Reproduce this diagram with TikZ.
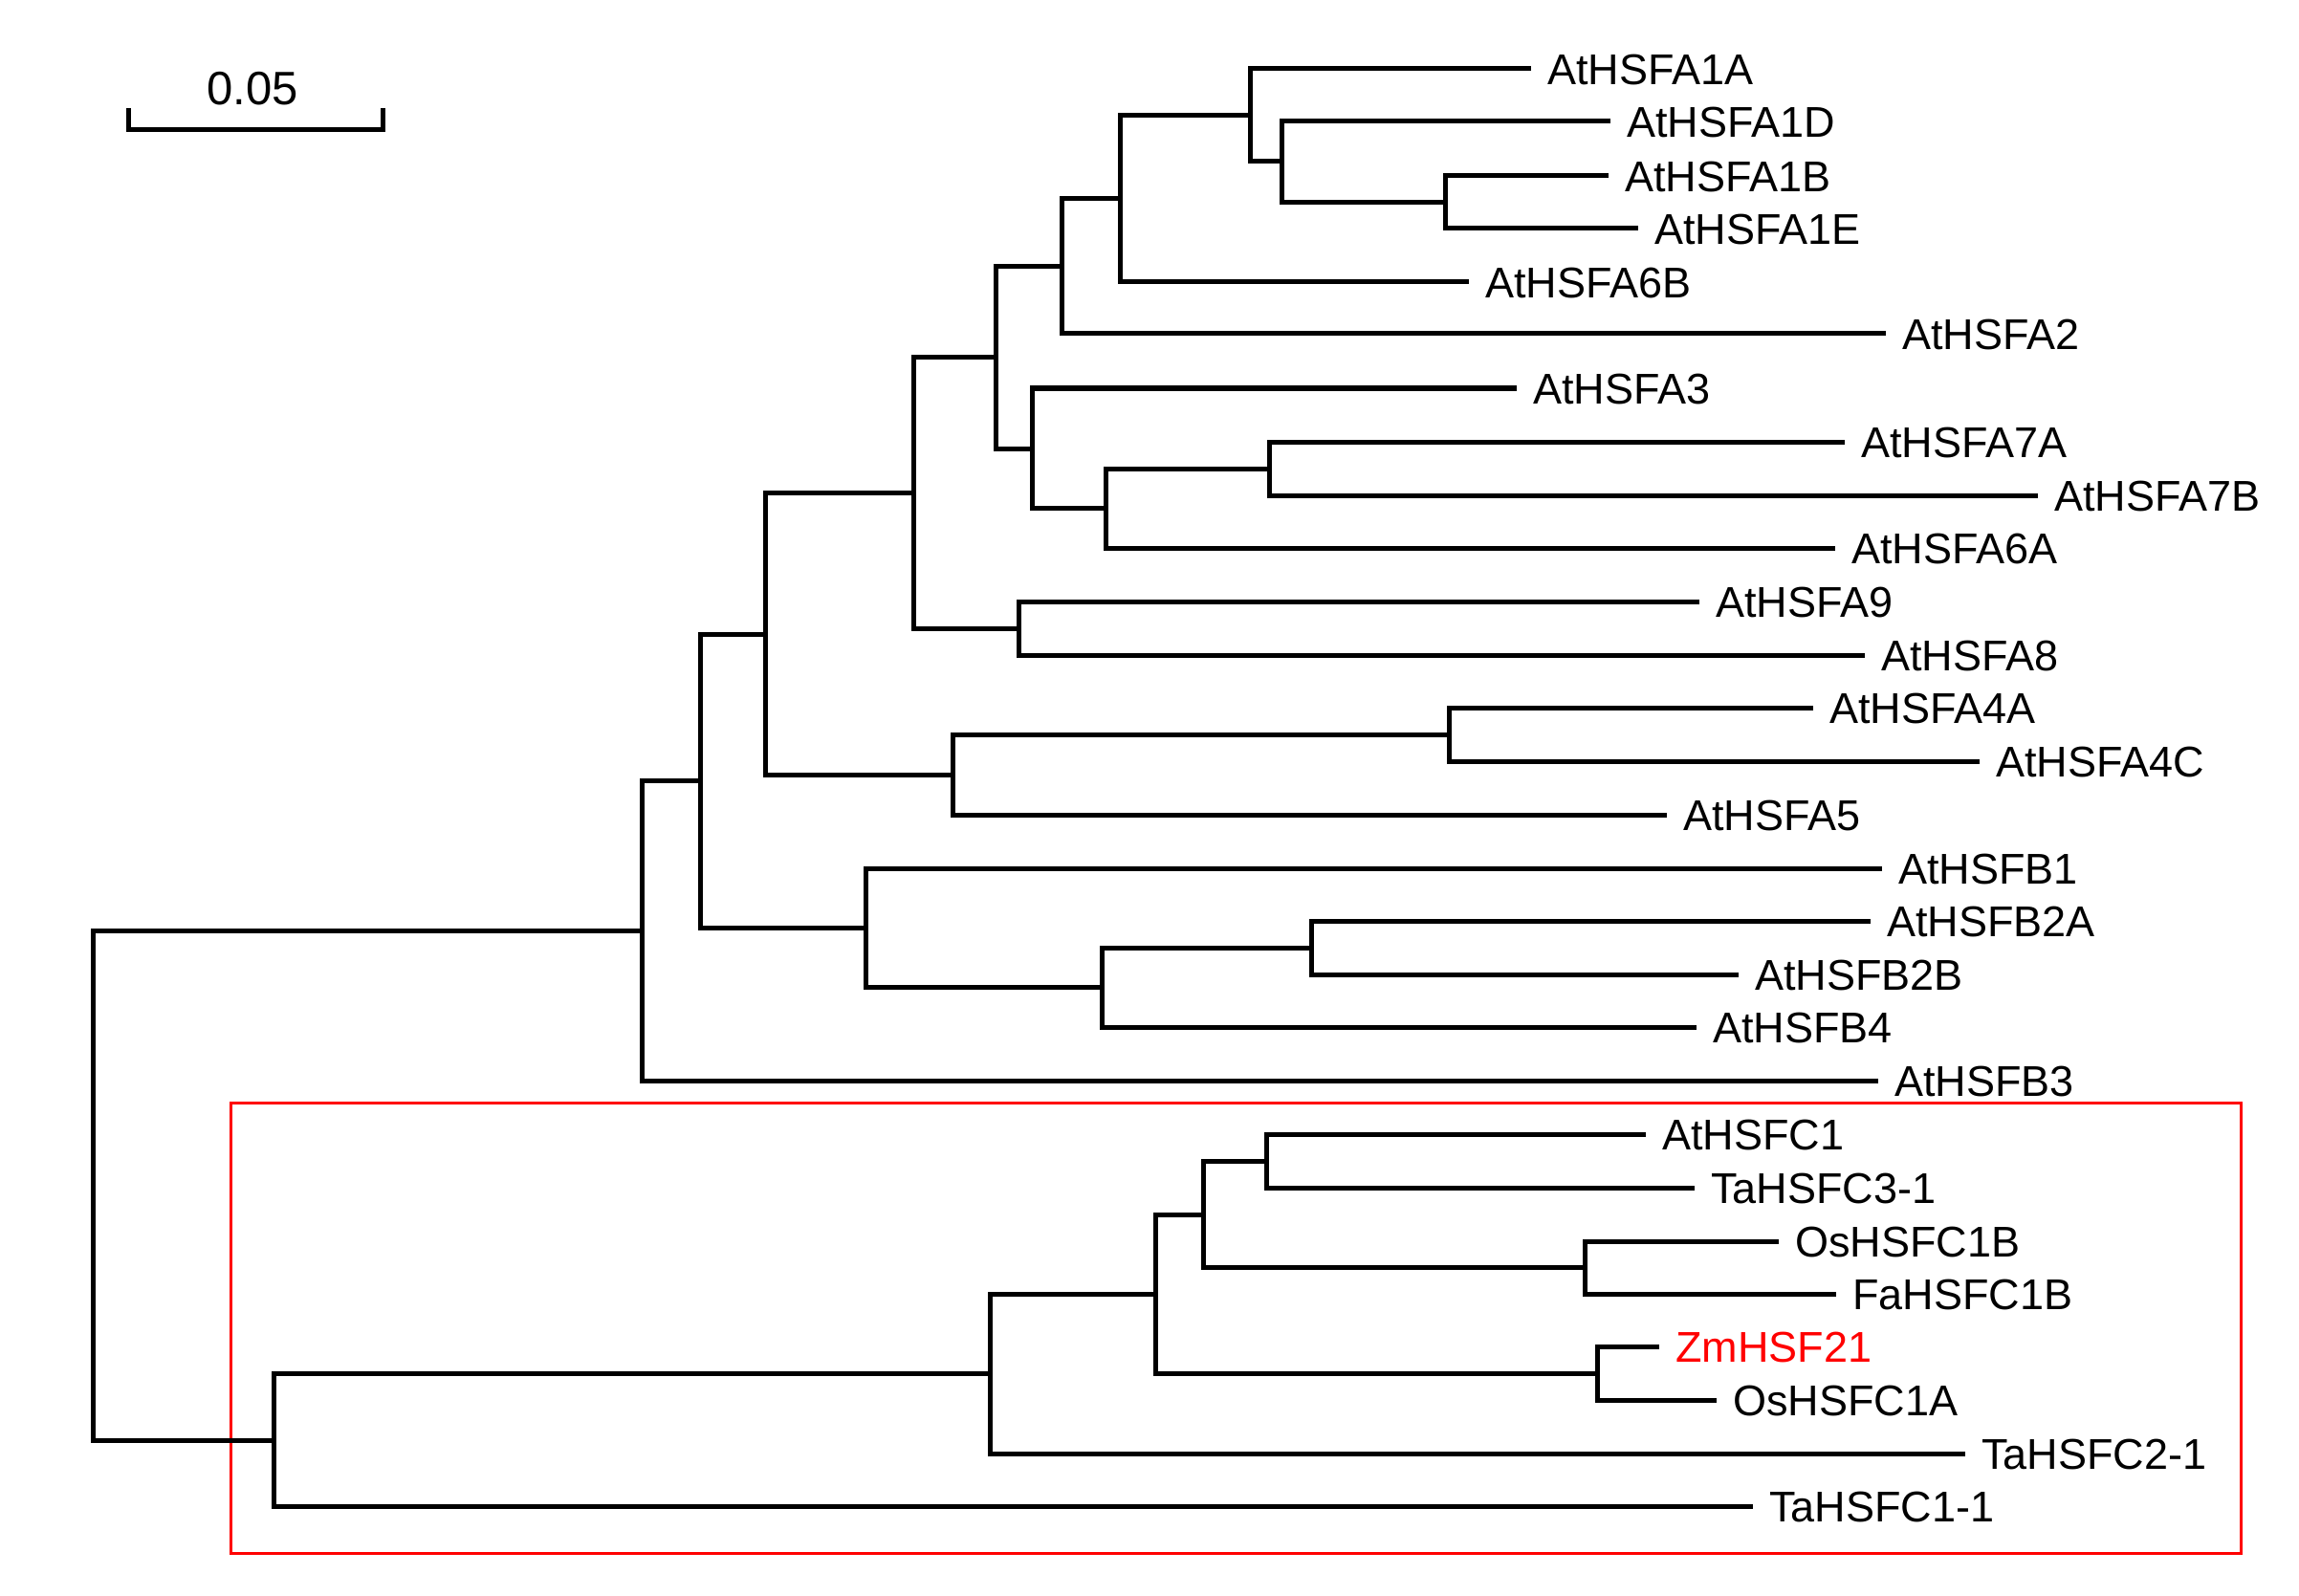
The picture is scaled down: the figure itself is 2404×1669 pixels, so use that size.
\documentclass[tikz,border=0pt]{standalone}
\usepackage{fontspec}
\setmainfont{Liberation Sans}
\begin{document}
\begin{tikzpicture}[x=1pt,y=-1pt,
  br/.style={line width=5pt, line join=miter},
  lab/.style={anchor=west, inner sep=0pt, text height=32.2pt, text depth=0pt, font=\fontsize{45}{54}\selectfont},
  boxred/.style={draw=red, line width=3pt}]
\useasboundingbox (0,0) rectangle (2404,1669);
% red box
\draw[boxred] (241,1153) rectangle (2343,1624);
% scale bar
\coordinate (s1) at (134,113);
\coordinate (s2) at (134,136);
\coordinate (s3) at (400,136);
\coordinate (s4) at (400,113);
\draw[br] (s1) -- (s2) -- (s3) -- (s4);
\node[inner sep=0pt, text height=35pt, text depth=0pt, font=\fontsize{49}{58}\selectfont] (scale) at (264,92.5) {0.05};
% leaf ends
\coordinate (a1a) at (1601,72);
\coordinate (a1d) at (1684,127);
\coordinate (a1b) at (1682,184);
\coordinate (a1e) at (1713,239);
\coordinate (a6b) at (1536,295);
\coordinate (a2) at (1972,349);
\coordinate (a3) at (1586,406);
\coordinate (a7a) at (1929,462);
\coordinate (a7b) at (2131,518);
\coordinate (a6a) at (1919,573);
\coordinate (a9) at (1777,629);
\coordinate (a8) at (1950,685);
\coordinate (a4a) at (1896,740);
\coordinate (a4c) at (2070,796);
\coordinate (a5) at (1743,852);
\coordinate (b1) at (1968,908);
\coordinate (b2a) at (1956,963);
\coordinate (b2b) at (1818,1019);
\coordinate (b4) at (1774,1074);
\coordinate (b3) at (1964,1130);
\coordinate (c1) at (1721,1186);
\coordinate (tc3) at (1772,1242);
\coordinate (oc1b) at (1860,1298);
\coordinate (fc1b) at (1920,1353);
\coordinate (zm) at (1735,1408);
\coordinate (oc1a) at (1795,1464);
\coordinate (tc2) at (2055,1520);
\coordinate (tc1) at (1833,1575);
% internal nodes
\coordinate (n26) at (1511,211.5);
\coordinate (n25) at (1340,169);
\coordinate (n24) at (1307,120.5);
\coordinate (n1) at (1171,208);
\coordinate (n2) at (1110,278.5);
\coordinate (n6) at (1327,490);
\coordinate (n5) at (1156,531.5);
\coordinate (n4) at (1079,469);
\coordinate (n3) at (1041,374);
\coordinate (n9) at (1065,657);
\coordinate (n7) at (955,515.5);
\coordinate (n11) at (1515,768);
\coordinate (n10) at (996,810);
\coordinate (n8) at (800,663);
\coordinate (n15) at (1371,991);
\coordinate (n14) at (1152,1032.5);
\coordinate (n13) at (905,970);
\coordinate (n12) at (732,816.5);
\coordinate (n16) at (671,973);
\coordinate (n22) at (1324,1214);
\coordinate (n23) at (1657,1325.5);
\coordinate (n20) at (1258,1270);
\coordinate (n21) at (1670,1436);
\coordinate (n19) at (1208,1353);
\coordinate (n18) at (1035,1436.5);
\coordinate (n17) at (286,1506);
\coordinate (root) at (97,1239.5);
% branches
\draw[br] (a1b) -| (n26) |- (a1e);
\draw[br] (a1d) -| (n25) |- (n26);
\draw[br] (a1a) -| (n24) |- (n25);
\draw[br] (n24) -| (n1) |- (a6b);
\draw[br] (n1) -| (n2) |- (a2);
\draw[br] (a7a) -| (n6) |- (a7b);
\draw[br] (n6) -| (n5) |- (a6a);
\draw[br] (a3) -| (n4) |- (n5);
\draw[br] (n2) -| (n3) |- (n4);
\draw[br] (a9) -| (n9) |- (a8);
\draw[br] (n3) -| (n7) |- (n9);
\draw[br] (a4a) -| (n11) |- (a4c);
\draw[br] (n11) -| (n10) |- (a5);
\draw[br] (n7) -| (n8) |- (n10);
\draw[br] (b2a) -| (n15) |- (b2b);
\draw[br] (n15) -| (n14) |- (b4);
\draw[br] (b1) -| (n13) |- (n14);
\draw[br] (n8) -| (n12) |- (n13);
\draw[br] (n12) -| (n16) |- (b3);
\draw[br] (c1) -| (n22) |- (tc3);
\draw[br] (oc1b) -| (n23) |- (fc1b);
\draw[br] (n22) -| (n20) |- (n23);
\draw[br] (zm) -| (n21) |- (oc1a);
\draw[br] (n20) -| (n19) |- (n21);
\draw[br] (n19) -| (n18) |- (tc2);
\draw[br] (n18) -| (n17) |- (tc1);
\draw[br] (n16) -| (root) |- (n17);
% labels
\node[lab] (La1a) at ([xshift=17pt]a1a) {AtHSFA1A};
\node[lab] (La1d) at ([xshift=17pt]a1d) {AtHSFA1D};
\node[lab] (La1b) at ([xshift=17pt]a1b) {AtHSFA1B};
\node[lab] (La1e) at ([xshift=17pt]a1e) {AtHSFA1E};
\node[lab] (La6b) at ([xshift=17pt]a6b) {AtHSFA6B};
\node[lab] (La2) at ([xshift=17pt]a2) {AtHSFA2};
\node[lab] (La3) at ([xshift=17pt]a3) {AtHSFA3};
\node[lab] (La7a) at ([xshift=17pt]a7a) {AtHSFA7A};
\node[lab] (La7b) at ([xshift=17pt]a7b) {AtHSFA7B};
\node[lab] (La6a) at ([xshift=17pt]a6a) {AtHSFA6A};
\node[lab] (La9) at ([xshift=17pt]a9) {AtHSFA9};
\node[lab] (La8) at ([xshift=17pt]a8) {AtHSFA8};
\node[lab] (La4a) at ([xshift=17pt]a4a) {AtHSFA4A};
\node[lab] (La4c) at ([xshift=17pt]a4c) {AtHSFA4C};
\node[lab] (La5) at ([xshift=17pt]a5) {AtHSFA5};
\node[lab] (Lb1) at ([xshift=17pt]b1) {AtHSFB1};
\node[lab] (Lb2a) at ([xshift=17pt]b2a) {AtHSFB2A};
\node[lab] (Lb2b) at ([xshift=17pt]b2b) {AtHSFB2B};
\node[lab] (Lb4) at ([xshift=17pt]b4) {AtHSFB4};
\node[lab] (Lb3) at ([xshift=17pt]b3) {AtHSFB3};
\node[lab] (Lc1) at ([xshift=17pt]c1) {AtHSFC1};
\node[lab] (Ltc3) at ([xshift=17pt]tc3) {TaHSFC3-1};
\node[lab] (Loc1b) at ([xshift=17pt]oc1b) {OsHSFC1B};
\node[lab] (Lfc1b) at ([xshift=17pt]fc1b) {FaHSFC1B};
\node[lab, text=red] (Lzm) at ([xshift=17pt]zm) {ZmHSF21};
\node[lab] (Loc1a) at ([xshift=17pt]oc1a) {OsHSFC1A};
\node[lab] (Ltc2) at ([xshift=17pt]tc2) {TaHSFC2-1};
\node[lab] (Ltc1) at ([xshift=17pt]tc1) {TaHSFC1-1};
\end{tikzpicture}
\end{document}
